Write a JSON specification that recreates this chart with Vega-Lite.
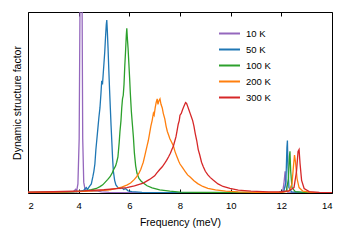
{
  "$schema": "https://vega.github.io/schema/vega-lite/v6.json",
  "autosize": "none",
  "width": 304,
  "height": 181,
  "padding": {"left": 28, "top": 12, "right": 18, "bottom": 47},
  "config": {
    "view": {"stroke": "#000000", "strokeWidth": 1},
    "font": "Liberation Sans",
    "axis": {"labelFont": "Liberation Sans", "titleFont": "Liberation Sans", "titleFontWeight": "normal", "labelColor": "#000", "titleColor": "#000"}
  },
  "data": {
    "values": [
      {"T":"10 K","f":2,"s":0.004},{"T":"10 K","f":3,"s":0.005},{"T":"10 K","f":3.5,"s":0.006},{"T":"10 K","f":3.8,"s":0.008},{"T":"10 K","f":3.88,"s":0.02},{"T":"10 K","f":3.92,"s":0.01},{"T":"10 K","f":3.97,"s":0.05},{"T":"10 K","f":4.02,"s":0.3},{"T":"10 K","f":4.06,"s":1.2},{"T":"10 K","f":4.1,"s":1.6},{"T":"10 K","f":4.13,"s":1.2},{"T":"10 K","f":4.16,"s":0.3},{"T":"10 K","f":4.2,"s":0.06},{"T":"10 K","f":4.25,"s":0.02},{"T":"10 K","f":4.35,"s":0.015},{"T":"10 K","f":4.5,"s":0.01},{"T":"10 K","f":4.7,"s":0.012},{"T":"10 K","f":4.9,"s":0.006},{"T":"10 K","f":5.2,"s":0.004},{"T":"10 K","f":6,"s":0.002},{"T":"10 K","f":8,"s":0.001},{"T":"10 K","f":11.9,"s":0.002},{"T":"10 K","f":12.0,"s":0.01},{"T":"10 K","f":12.05,"s":0.005},{"T":"10 K","f":12.1,"s":0.05},{"T":"10 K","f":12.15,"s":0.12},{"T":"10 K","f":12.18,"s":0.04},{"T":"10 K","f":12.25,"s":0.005},{"T":"10 K","f":13,"s":0.001},{"T":"10 K","f":14,"s":0.001},

      {"T":"50 K","f":2,"s":0.002},{"T":"50 K","f":3.5,"s":0.004},{"T":"50 K","f":4.0,"s":0.008},{"T":"50 K","f":4.2,"s":0.015},{"T":"50 K","f":4.3,"s":0.03},{"T":"50 K","f":4.35,"s":0.02},{"T":"50 K","f":4.42,"s":0.035},{"T":"50 K","f":4.5,"s":0.05},{"T":"50 K","f":4.56,"s":0.09},{"T":"50 K","f":4.6,"s":0.12},{"T":"50 K","f":4.64,"s":0.16},{"T":"50 K","f":4.68,"s":0.24},{"T":"50 K","f":4.72,"s":0.3},{"T":"50 K","f":4.76,"s":0.36},{"T":"50 K","f":4.8,"s":0.42},{"T":"50 K","f":4.84,"s":0.47},{"T":"50 K","f":4.88,"s":0.55},{"T":"50 K","f":4.91,"s":0.62},{"T":"50 K","f":4.94,"s":0.6},{"T":"50 K","f":4.97,"s":0.66},{"T":"50 K","f":5.0,"s":0.72},{"T":"50 K","f":5.03,"s":0.78},{"T":"50 K","f":5.06,"s":0.86},{"T":"50 K","f":5.09,"s":0.93},{"T":"50 K","f":5.11,"s":0.955},{"T":"50 K","f":5.13,"s":0.9},{"T":"50 K","f":5.16,"s":0.8},{"T":"50 K","f":5.19,"s":0.68},{"T":"50 K","f":5.22,"s":0.57},{"T":"50 K","f":5.25,"s":0.47},{"T":"50 K","f":5.28,"s":0.37},{"T":"50 K","f":5.31,"s":0.28},{"T":"50 K","f":5.34,"s":0.19},{"T":"50 K","f":5.37,"s":0.12},{"T":"50 K","f":5.42,"s":0.07},{"T":"50 K","f":5.47,"s":0.045},{"T":"50 K","f":5.55,"s":0.03},{"T":"50 K","f":5.63,"s":0.025},{"T":"50 K","f":5.7,"s":0.03},{"T":"50 K","f":5.78,"s":0.02},{"T":"50 K","f":5.85,"s":0.025},{"T":"50 K","f":5.95,"s":0.012},{"T":"50 K","f":6.1,"s":0.008},{"T":"50 K","f":6.5,"s":0.004},{"T":"50 K","f":7.5,"s":0.002},{"T":"50 K","f":11.9,"s":0.002},{"T":"50 K","f":12.1,"s":0.01},{"T":"50 K","f":12.18,"s":0.06},{"T":"50 K","f":12.22,"s":0.25},{"T":"50 K","f":12.24,"s":0.29},{"T":"50 K","f":12.26,"s":0.15},{"T":"50 K","f":12.3,"s":0.03},{"T":"50 K","f":12.4,"s":0.006},{"T":"50 K","f":13,"s":0.002},{"T":"50 K","f":14,"s":0.001},

      {"T":"100 K","f":2,"s":0.003},{"T":"100 K","f":3.5,"s":0.006},{"T":"100 K","f":4.2,"s":0.01},{"T":"100 K","f":4.5,"s":0.018},{"T":"100 K","f":4.7,"s":0.025},{"T":"100 K","f":4.84,"s":0.035},{"T":"100 K","f":4.95,"s":0.045},{"T":"100 K","f":5.05,"s":0.06},{"T":"100 K","f":5.15,"s":0.075},{"T":"100 K","f":5.24,"s":0.09},{"T":"100 K","f":5.32,"s":0.11},{"T":"100 K","f":5.4,"s":0.135},{"T":"100 K","f":5.46,"s":0.15},{"T":"100 K","f":5.5,"s":0.17},{"T":"100 K","f":5.55,"s":0.2},{"T":"100 K","f":5.6,"s":0.28},{"T":"100 K","f":5.63,"s":0.34},{"T":"100 K","f":5.67,"s":0.4},{"T":"100 K","f":5.7,"s":0.47},{"T":"100 K","f":5.73,"s":0.52},{"T":"100 K","f":5.76,"s":0.54},{"T":"100 K","f":5.79,"s":0.6},{"T":"100 K","f":5.82,"s":0.7},{"T":"100 K","f":5.85,"s":0.78},{"T":"100 K","f":5.88,"s":0.87},{"T":"100 K","f":5.9,"s":0.91},{"T":"100 K","f":5.92,"s":0.86},{"T":"100 K","f":5.95,"s":0.8},{"T":"100 K","f":5.98,"s":0.72},{"T":"100 K","f":6.01,"s":0.64},{"T":"100 K","f":6.04,"s":0.55},{"T":"100 K","f":6.08,"s":0.45},{"T":"100 K","f":6.12,"s":0.38},{"T":"100 K","f":6.16,"s":0.31},{"T":"100 K","f":6.2,"s":0.22},{"T":"100 K","f":6.25,"s":0.15},{"T":"100 K","f":6.3,"s":0.11},{"T":"100 K","f":6.38,"s":0.08},{"T":"100 K","f":6.47,"s":0.065},{"T":"100 K","f":6.55,"s":0.055},{"T":"100 K","f":6.7,"s":0.04},{"T":"100 K","f":6.9,"s":0.028},{"T":"100 K","f":7.2,"s":0.017},{"T":"100 K","f":7.6,"s":0.01},{"T":"100 K","f":8.0,"s":0.005},{"T":"100 K","f":9,"s":0.003},{"T":"100 K","f":11.9,"s":0.002},{"T":"100 K","f":12.2,"s":0.01},{"T":"100 K","f":12.28,"s":0.08},{"T":"100 K","f":12.32,"s":0.2},{"T":"100 K","f":12.34,"s":0.23},{"T":"100 K","f":12.37,"s":0.12},{"T":"100 K","f":12.42,"s":0.03},{"T":"100 K","f":12.55,"s":0.008},{"T":"100 K","f":13,"s":0.002},{"T":"100 K","f":14,"s":0.001},

      {"T":"200 K","f":2,"s":0.004},{"T":"200 K","f":3,"s":0.005},{"T":"200 K","f":3.6,"s":0.006},{"T":"200 K","f":4.2,"s":0.009},{"T":"200 K","f":4.8,"s":0.013},{"T":"200 K","f":5.24,"s":0.018},{"T":"200 K","f":5.5,"s":0.025},{"T":"200 K","f":5.7,"s":0.033},{"T":"200 K","f":5.9,"s":0.044},{"T":"200 K","f":6.05,"s":0.055},{"T":"200 K","f":6.2,"s":0.075},{"T":"200 K","f":6.29,"s":0.09},{"T":"200 K","f":6.38,"s":0.11},{"T":"200 K","f":6.45,"s":0.13},{"T":"200 K","f":6.5,"s":0.15},{"T":"200 K","f":6.55,"s":0.17},{"T":"200 K","f":6.6,"s":0.2},{"T":"200 K","f":6.65,"s":0.23},{"T":"200 K","f":6.7,"s":0.26},{"T":"200 K","f":6.75,"s":0.29},{"T":"200 K","f":6.8,"s":0.33},{"T":"200 K","f":6.85,"s":0.37},{"T":"200 K","f":6.9,"s":0.4},{"T":"200 K","f":6.95,"s":0.44},{"T":"200 K","f":6.98,"s":0.43},{"T":"200 K","f":7.02,"s":0.47},{"T":"200 K","f":7.06,"s":0.5},{"T":"200 K","f":7.1,"s":0.52},{"T":"200 K","f":7.13,"s":0.49},{"T":"200 K","f":7.17,"s":0.51},{"T":"200 K","f":7.21,"s":0.52},{"T":"200 K","f":7.25,"s":0.49},{"T":"200 K","f":7.3,"s":0.47},{"T":"200 K","f":7.34,"s":0.44},{"T":"200 K","f":7.4,"s":0.41},{"T":"200 K","f":7.45,"s":0.37},{"T":"200 K","f":7.5,"s":0.34},{"T":"200 K","f":7.55,"s":0.32},{"T":"200 K","f":7.6,"s":0.3},{"T":"200 K","f":7.67,"s":0.28},{"T":"200 K","f":7.74,"s":0.26},{"T":"200 K","f":7.8,"s":0.23},{"T":"200 K","f":7.88,"s":0.2},{"T":"200 K","f":7.95,"s":0.175},{"T":"200 K","f":8.0,"s":0.16},{"T":"200 K","f":8.1,"s":0.14},{"T":"200 K","f":8.2,"s":0.12},{"T":"200 K","f":8.3,"s":0.1},{"T":"200 K","f":8.4,"s":0.088},{"T":"200 K","f":8.55,"s":0.068},{"T":"200 K","f":8.7,"s":0.052},{"T":"200 K","f":8.9,"s":0.036},{"T":"200 K","f":9.1,"s":0.026},{"T":"200 K","f":9.4,"s":0.017},{"T":"200 K","f":9.8,"s":0.01},{"T":"200 K","f":10.3,"s":0.006},{"T":"200 K","f":11,"s":0.004},{"T":"200 K","f":12,"s":0.004},{"T":"200 K","f":12.3,"s":0.01},{"T":"200 K","f":12.42,"s":0.05},{"T":"200 K","f":12.48,"s":0.15},{"T":"200 K","f":12.52,"s":0.21},{"T":"200 K","f":12.56,"s":0.17},{"T":"200 K","f":12.62,"s":0.08},{"T":"200 K","f":12.7,"s":0.03},{"T":"200 K","f":12.85,"s":0.01},{"T":"200 K","f":13.2,"s":0.003},{"T":"200 K","f":14,"s":0.002},

      {"T":"300 K","f":2,"s":0.005},{"T":"300 K","f":3,"s":0.007},{"T":"300 K","f":4.2,"s":0.012},{"T":"300 K","f":5,"s":0.018},{"T":"300 K","f":5.5,"s":0.024},{"T":"300 K","f":5.9,"s":0.03},{"T":"300 K","f":6.2,"s":0.04},{"T":"300 K","f":6.55,"s":0.055},{"T":"300 K","f":6.8,"s":0.075},{"T":"300 K","f":7.0,"s":0.095},{"T":"300 K","f":7.08,"s":0.11},{"T":"300 K","f":7.2,"s":0.13},{"T":"300 K","f":7.3,"s":0.145},{"T":"300 K","f":7.4,"s":0.165},{"T":"300 K","f":7.47,"s":0.18},{"T":"300 K","f":7.55,"s":0.2},{"T":"300 K","f":7.62,"s":0.22},{"T":"300 K","f":7.68,"s":0.24},{"T":"300 K","f":7.74,"s":0.26},{"T":"300 K","f":7.8,"s":0.29},{"T":"300 K","f":7.84,"s":0.31},{"T":"300 K","f":7.88,"s":0.34},{"T":"300 K","f":7.93,"s":0.38},{"T":"300 K","f":7.97,"s":0.4},{"T":"300 K","f":8.0,"s":0.43},{"T":"300 K","f":8.05,"s":0.44},{"T":"300 K","f":8.1,"s":0.46},{"T":"300 K","f":8.16,"s":0.48},{"T":"300 K","f":8.22,"s":0.5},{"T":"300 K","f":8.26,"s":0.495},{"T":"300 K","f":8.3,"s":0.48},{"T":"300 K","f":8.35,"s":0.46},{"T":"300 K","f":8.4,"s":0.44},{"T":"300 K","f":8.45,"s":0.42},{"T":"300 K","f":8.5,"s":0.4},{"T":"300 K","f":8.55,"s":0.37},{"T":"300 K","f":8.6,"s":0.33},{"T":"300 K","f":8.66,"s":0.29},{"T":"300 K","f":8.72,"s":0.24},{"T":"300 K","f":8.78,"s":0.21},{"T":"300 K","f":8.85,"s":0.17},{"T":"300 K","f":8.92,"s":0.145},{"T":"300 K","f":9.0,"s":0.12},{"T":"300 K","f":9.1,"s":0.1},{"T":"300 K","f":9.2,"s":0.085},{"T":"300 K","f":9.32,"s":0.07},{"T":"300 K","f":9.5,"s":0.05},{"T":"300 K","f":9.7,"s":0.036},{"T":"300 K","f":9.97,"s":0.025},{"T":"300 K","f":10.3,"s":0.016},{"T":"300 K","f":10.8,"s":0.01},{"T":"300 K","f":11.5,"s":0.006},{"T":"300 K","f":12.0,"s":0.007},{"T":"300 K","f":12.3,"s":0.012},{"T":"300 K","f":12.5,"s":0.03},{"T":"300 K","f":12.6,"s":0.12},{"T":"300 K","f":12.66,"s":0.23},{"T":"300 K","f":12.7,"s":0.24},{"T":"300 K","f":12.74,"s":0.16},{"T":"300 K","f":12.8,"s":0.07},{"T":"300 K","f":12.9,"s":0.025},{"T":"300 K","f":13.1,"s":0.008},{"T":"300 K","f":13.5,"s":0.003},{"T":"300 K","f":14,"s":0.002}
    ]
  },
  "layer": [
    {
      "mark": {"type": "line", "clip": true, "strokeWidth": 1.3},
      "encoding": {
        "x": {"field": "f", "type": "quantitative", "scale": {"domain": [2, 14], "nice": false},
          "axis": {"orient": "bottom", "title": "Frequency (meV)", "values": [2,4,6,8,10,12,14], "grid": false, "domain": false, "tickSize": -4, "tickColor": "#000", "labelFontSize": 9.5, "titleFontSize": 10.5, "labelPadding": 11, "titlePadding": 8}},
        "y": {"field": "s", "type": "quantitative", "scale": {"domain": [0, 1], "nice": false, "zero": true},
          "axis": {"title": "Dynamic structure factor", "labels": false, "ticks": false, "grid": false, "domain": false, "titleFontSize": 10.5, "titlePadding": 6}},
        "color": {"field": "T", "type": "nominal", "sort": ["10 K","50 K","100 K","200 K","300 K"],
          "scale": {"domain": ["10 K","50 K","100 K","200 K","300 K"], "range": ["#9467bd","#1f77b4","#2ca02c","#ff7f0e","#d62728"]},
          "legend": {"title": null, "orient": "none", "legendX": 190, "legendY": 10, "symbolType": "stroke", "symbolSize": 440, "symbolStrokeWidth": 2, "labelFontSize": 9.5, "rowPadding": -5, "labelOffset": 5, "labelColor": "#000"}}
      }
    },
    {
      "mark": {"type": "rule", "opacity": 0},
      "encoding": {
        "x": {"field": "f", "type": "quantitative", "aggregate": "min",
          "axis": {"orient": "top", "title": null, "labels": false, "values": [2,4,6,8,10,12,14], "grid": false, "domain": false, "tickSize": -4, "tickColor": "#000"}}
      }
    }
  ],
  "resolve": {"axis": {"x": "independent"}}
}
